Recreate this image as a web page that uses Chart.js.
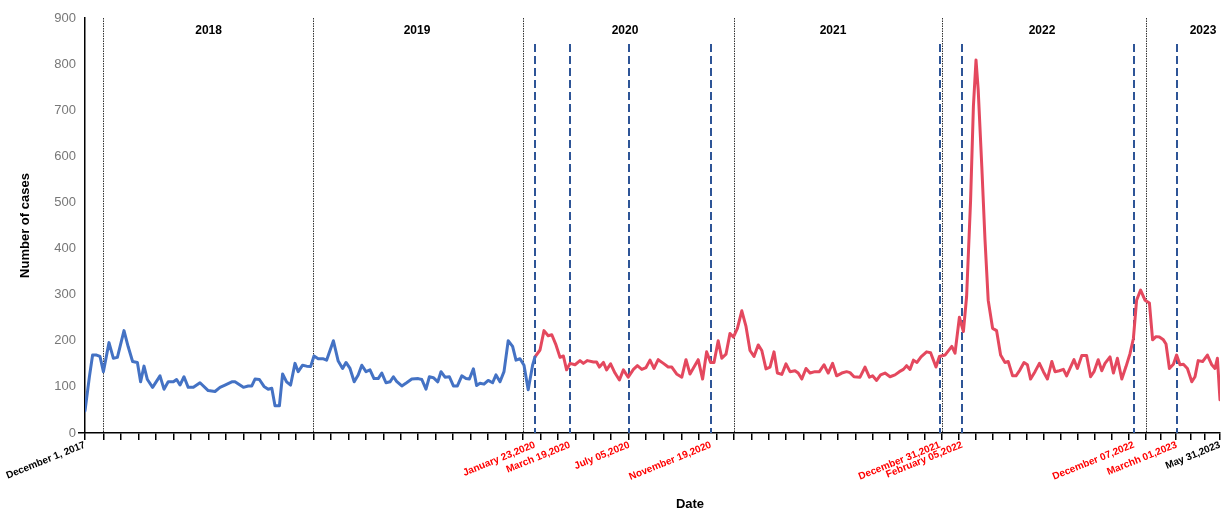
<!DOCTYPE html>
<html><head><meta charset="utf-8">
<script src="https://cdn.jsdelivr.net/npm/chart.js@4.4.0/dist/chart.umd.min.js"></script>
<style>html,body{margin:0;padding:0;background:#fff;}canvas{display:block;}</style>
</head><body>
<canvas id="c" width="1226" height="511"></canvas>
<script>
// x values: weeks since December 1, 2017 (positions)
const blueWeeks = [0,1.1,1.9,2.9,3.75,4.6,6.0,7.1,8.1,9.75,
10.8,11.9,13.1,13.9,14.75,15.6,16.9,18.75,19.75,20.8,
22.1,22.9,23.75,24.75,25.8,27.1,28.75,30.8,32.5,33.75,
35,36.7,37.5,39.6,40.8,41.7,42.5,43.6,44.75,45.8,
46.7,47.5,48.6,49.4,50.4,51.4,52.5,53.3,54.4,55.4,
56.4,57.25,58.3,59.6,60.4,62.1,63.3,64.4,65.25,66.25,
67.3,68.3,69.2,70.25,71.25,72.25,73.3,74.2,75.25,76.25,
77.1,77.9,79.2,80.4,81.7,83.3,84.2,85.25,86.1,87.1,
88.2,89,90,91.1,92.1,93.1,94.2,95.25,96.1,97.1,
97.9,98.75,99.75,100.8,101.9,102.75,103.75,104.75,105.8,106.9,
107.75,108.75,109.75,110.8,111.9,112.5];
const blueCases = [48,122,169,169,166,133,196,162,164,222,
187,155,153,111,145,116,99,124,95,111,
111,116,104,122,99,99,109,92,90,99,
104,111,111,99,102,102,117,116,101,95,
97,59,59,128,111,104,151,133,147,145,
144,167,161,161,158,200,156,140,153,140,
111,126,147,133,137,118,118,130,109,111,
122,112,102,109,117,118,116,95,122,120,
111,133,121,122,102,102,124,118,117,139,
103,108,106,114,109,126,111,133,200,188,
158,161,147,94,147,165];

const redWeeks = [112.5,113.75,114.75,115.8,116.7,117.75,118.75,119.6,120.4,121.25,
122.5,123.75,124.6,125.6,127.1,127.9,128.6,129.6,130.4,131.4,
132.5,133.6,134.6,135.8,137.1,138.1,139.2,140.25,141.25,142.25,
143.3,144.6,145.8,146.7,147.9,149.2,150.25,151.25,152.25,153.3,
154.4,155.4,156.4,157.25,158.3,159.2,160.25,161.25,162.1,163.1,
164.2,165.25,166.25,167.25,168.3,169.2,170.25,171.25,172.25,173.1,
174.2,175.25,176.25,177.5,178.3,179.2,180.25,181.25,182.5,183.6,
184.75,185.8,186.9,187.9,189.2,190.4,191.25,192.25,193.75,195,
196.1,196.9,197.9,198.9,200,201.25,202.5,203.6,204.6,205.4,
206.25,207.1,208,209,210.4,211.4,212.75,213.6,215,216.7,
217.5,218.6,219.6,220.4,221.4,222.1,222.75,223.3,224.2,225,
225.8,226.9,227.9,228.9,230,230.8,231.9,232.75,233.75,234.75,
235.6,236.4,237.5,238.6,239.6,240.6,241.7,242.5,243.6,244.6,
245.4,246.25,247.25,248.1,249.2,250.4,251.4,252.25,253.3,254.2,
255,256.25,257.1,258.1,259.2,260.25,261.25,262.1,262.9,263.9,
265,266.1,266.9,267.75,268.6,269.6,270.25,271.1,272.1,272.9,
273.75,274.6,275.6,276.7,277.5,278.3,279.4,280.6,281.7,282.5,
283.1,283.75];
const redCases = [165,180,222,211,213,191,164,167,137,151,
148,157,151,157,154,154,143,153,137,150,
130,115,137,121,138,146,138,142,158,140,
159,151,143,143,128,121,159,128,143,159,
117,176,153,153,200,162,171,216,208,227,
265,231,179,166,191,179,139,143,176,130,
127,150,133,135,130,117,140,130,133,133,
148,130,151,124,130,133,131,122,121,143,
121,124,114,126,130,122,126,133,138,146,
138,158,153,165,176,174,143,166,169,188,
173,251,220,296,505,708,809,744,578,419,
288,227,222,169,153,155,124,124,137,153,
148,117,133,151,133,117,155,133,135,138,
124,140,159,140,168,168,122,133,159,135,
151,165,130,162,117,144,172,205,288,310,
288,282,202,209,208,202,193,140,149,169,
148,149,140,111,122,157,155,169,148,140,
162,72];

const axisEnd = 283.75;               // May 31, 2023
const yearLines = [4.6, 57.1, 109.5, 162.25, 214.3, 265.3];
const yearLabels = ['2018','2019','2020','2021','2022','2023'];
const yearLabelAt = [30.9, 83, 135, 187, 239.25, 279.5];
const eventWeeks = [112.5, 121.25, 136.1, 156.5, 213.75, 219.3, 262.25, 272.9];
const eventLabels = ['January 23,2020','March 19,2020','July 05,2020','November 19,2020',
  'December 31,2021','February 05,2022','December 07,2022','Marchh 01,2023'];
const startLabel = 'December 1, 2017';
const endLabel = 'May 31,2023';
const yMax = 900, yStep = 100;

const FONT = '"Liberation Sans", Arial, sans-serif';

function monthTicks() {
  const t = [0];
  const b = yearLines.concat([axisEnd]);
  for (let i = 0; i < b.length - 1; i++) {
    const n = (i === b.length - 2) ? 5 : 12;
    for (let k = 0; k < n; k++) t.push(b[i] + (b[i+1] - b[i]) * k / n);
  }
  t.push(axisEnd);
  return t;
}
const isEvent = v => eventWeeks.some(e => Math.abs(e - v) < 1e-6);
function labelFor(v) {
  if (Math.abs(v) < 1e-6) return startLabel;
  if (Math.abs(v - axisEnd) < 1e-6) return endLabel;
  const i = eventWeeks.findIndex(e => Math.abs(e - v) < 1e-6);
  return i >= 0 ? eventLabels[i] : '';
}

const overlay = {
  id: 'overlay',
  beforeDatasetsDraw(chart) {
    const {ctx, chartArea, scales: {x}} = chart;
    ctx.save();
    ctx.strokeStyle = '#333'; ctx.lineWidth = 1; ctx.setLineDash([1.5, 1]);
    yearLines.forEach(v => {
      const px = Math.round(x.getPixelForValue(v)) + 0.5;
      ctx.beginPath(); ctx.moveTo(px, chartArea.top); ctx.lineTo(px, chartArea.bottom); ctx.stroke();
    });
    ctx.strokeStyle = '#2E5597'; ctx.lineWidth = 2; ctx.setLineDash([8, 4]);
    eventWeeks.forEach(v => {
      const px = Math.round(x.getPixelForValue(v));
      ctx.beginPath(); ctx.moveTo(px, chartArea.top + 26); ctx.lineTo(px, chartArea.bottom); ctx.stroke();
    });
    ctx.setLineDash([]);
    ctx.fillStyle = '#000'; ctx.font = 'bold 12px ' + FONT;
    ctx.textAlign = 'center'; ctx.textBaseline = 'middle';
    yearLabels.forEach((t, i) => ctx.fillText(t, x.getPixelForValue(yearLabelAt[i]), chartArea.top + 13));
    ctx.restore();
  },
  afterDraw(chart) {
    const {ctx} = chart;
    ctx.save();
    ctx.fillStyle = '#000'; ctx.font = 'bold 13px ' + FONT;
    ctx.textAlign = 'center'; ctx.textBaseline = 'middle';
    ctx.fillText('Date', 690, 504);
    ctx.restore();
  }
};

new Chart(document.getElementById('c'), {
  type: 'line',
  data: {
    datasets: [
      { data: blueWeeks.map((w, i) => ({x: w, y: blueCases[i]})), borderColor: '#4472C4', borderWidth: 3 },
      { data: redWeeks.map((w, i) => ({x: w, y: redCases[i]})), borderColor: '#E4485E', borderWidth: 3 }
    ]
  },
  options: {
    responsive: false,
    animation: false,
    devicePixelRatio: 1,
    layout: { padding: { left: 0, right: 6, top: 18, bottom: 0 } },
    elements: { point: { radius: 0 }, line: { tension: 0, borderJoinStyle: 'round', borderCapStyle: 'round' } },
    plugins: { legend: { display: false }, tooltip: { enabled: false } },
    scales: {
      x: {
        type: 'linear', min: 0, max: axisEnd,
        afterBuildTicks(scale) {
          const vals = monthTicks().concat(eventWeeks).sort((a, b) => a - b);
          scale.ticks = vals.map(v => ({value: v}));
        },
        afterFit(scale) { scale.height = 78; },
        border: { color: '#000', width: 1.5 },
        grid: {
          drawOnChartArea: false, drawTicks: true, tickLength: 7, lineWidth: 1.5,
          tickColor: ctx => (ctx.tick && isEvent(ctx.tick.value)) ? 'rgba(0,0,0,0)' : '#000'
        },
        ticks: {
          autoSkip: false, minRotation: 22, maxRotation: 22, padding: -1,
          font: { family: FONT, size: 10, weight: 'bold' },
          color: ctx => (ctx.tick && isEvent(ctx.tick.value)) ? '#FF0000' : '#000',
          callback: v => labelFor(v)
        }
      },
      y: {
        min: 0, max: yMax,
        afterFit(scale) { scale.width = 85; },
        border: { color: '#000', width: 1.5 },
        grid: {
          drawOnChartArea: false, drawTicks: true, tickLength: 7, lineWidth: 1.5,
          tickColor: ctx => (ctx.tick && ctx.tick.value === 0) ? '#000' : 'rgba(0,0,0,0)'
        },
        ticks: { stepSize: yStep, padding: 2, color: '#777', font: { family: FONT, size: 13 } },
        title: { display: true, text: 'Number of cases', color: '#000',
          font: { family: FONT, size: 13, weight: 'bold' }, padding: { top: 18, bottom: 0 } }
      }
    }
  },
  plugins: [overlay]
});
</script>
</body></html>
